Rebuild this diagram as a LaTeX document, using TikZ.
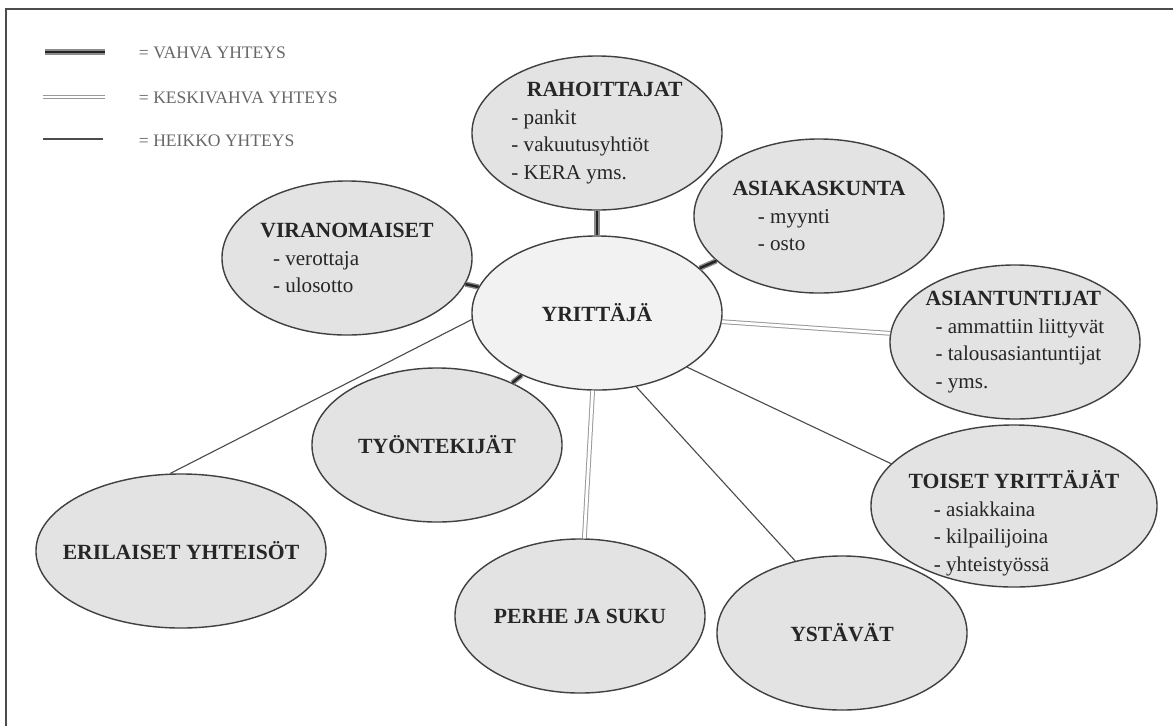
\documentclass[tikz,border=0pt]{standalone}
\usepackage{fontspec}
\setmainfont{Liberation Serif}
\usetikzlibrary{shapes.geometric,calc}

\tikzset{
  bubble/.style={ellipse, draw=black!75, line width=1pt, fill=black!11,
    inner xsep=-1cm, inner ysep=-0.4cm, minimum width=6.25cm, minimum height=3.85cm,
    align=left, text=black!85, font=\fontsize{15pt}{19.5pt}\selectfont},
  vahva/.style={draw=black!45, line width=1pt, double=black!85, double distance=1.8pt},
  keski/.style={draw=black!40, line width=0.7pt, double=white, double distance=2pt},
  heikko/.style={draw=black!70, line width=0.8pt},
  legendtext/.style={anchor=west, text=black!60, font=\fontsize{12.5pt}{14pt}\selectfont}
}
\newcommand{\hd}[1]{{\fontsize{15.4pt}{19.5pt}\selectfont\bfseries #1}}

\begin{document}
\begin{tikzpicture}[x=0.025cm, y=-0.025cm]

\useasboundingbox (0,0) rectangle (1173,726);

\draw[black!70, line width=1.3pt] (6,726) -- (6,9) -- (1173,9);


% selite
\coordinate (va) at (45,52);
\coordinate (vb) at (105,52);
\draw[vahva] (va) -- (vb);
\node[legendtext] (lva) at (134,53) {= VAHVA YHTEYS};

\coordinate (ka) at (43,97);
\coordinate (kb) at (105,97);
\draw[keski] (ka) -- (kb);
\node[legendtext] (lke) at (134,98) {= KESKIVAHVA YHTEYS};

\coordinate (ha) at (43,139);
\coordinate (hb) at (103,139);
\draw[heikko] (ha) -- (hb);
\node[legendtext] (lhe) at (134,141) {= HEIKKO YHTEYS};


\node[bubble] (vir) at (347,258) {\hd{VIRANOMAISET}\\\hspace*{9pt}- verottaja\\\hspace*{9pt}- ulosotto};

\node[bubble] (rah) at (597,133) {\hspace*{11pt}\hd{RAHOITTAJAT}\\- pankit\\- vakuutusyhtiöt\\- KERA yms.};

\node[bubble, fill=black!5] (yri) at (597,313) {\hd{YRITTÄJÄ}};

\node[bubble] (asi) at (819,216) {\hd{ASIAKASKUNTA}\\\hspace*{18pt}- myynti\\\hspace*{18pt}- osto};

\node[bubble] (ant) at (1015,342) {\hd{ASIANTUNTIJAT}\\\hspace*{7pt}- ammattiin liittyvät\\\hspace*{7pt}- talousasiantuntijat\\\hspace*{7pt}- yms.};

\node[bubble] (yst) at (842,633) {\hd{YSTÄVÄT}};

\node[bubble, minimum width=7.15cm, minimum height=4.05cm, text height=96pt] (toi) at (1014,506) {\hd{TOISET YRITTÄJÄT}\\\hspace*{18pt}- asiakkaina\\\hspace*{18pt}- kilpailijoina\\\hspace*{18pt}- yhteistyössä};

\node[bubble] (per) at (580,616) {\hd{PERHE JA SUKU}};

\node[bubble] (tyo) at (437,445) {\hd{TYÖNTEKIJÄT}};

\node[bubble, minimum width=7.25cm] (eri) at (181,551) {\hd{ERILAISET YHTEISÖT}};


\draw[vahva] (rah) -- (yri);
\draw[vahva] (vir) -- (yri);
\draw[vahva] (asi) -- (yri);
\draw[vahva] (tyo) -- (yri);

\draw[keski] (yri) -- (ant);
\draw[keski] (yri) -- (per);

\draw[heikko] (yri.183) -- (eri.98);
\draw[heikko] (yri.-62) -- (yst.123);
\draw[heikko] (yri.-31) -- (toi.161);

\end{tikzpicture}
\end{document}
